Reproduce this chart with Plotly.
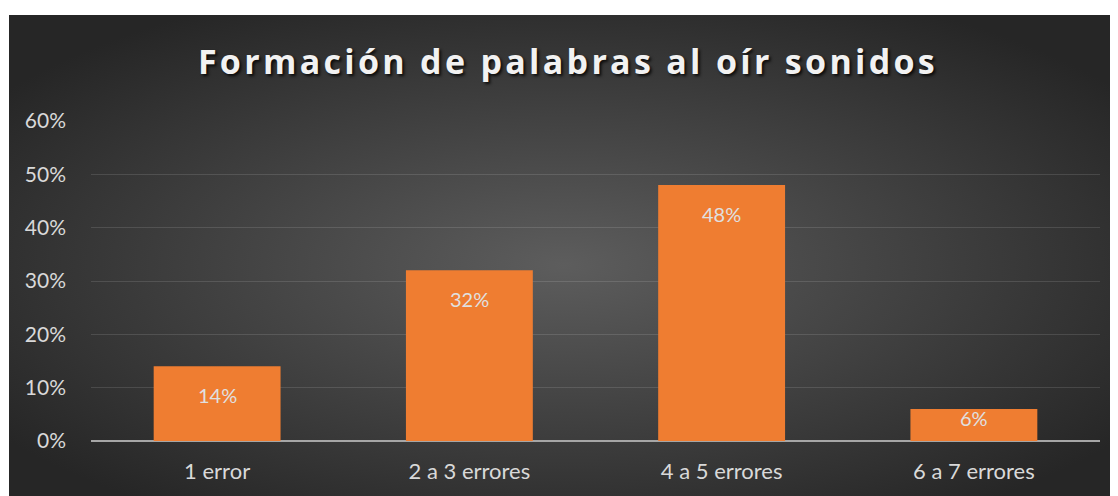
import plotly.graph_objects as go
import base64

categories = ["1 error", "2 a 3 errores", "4 a 5 errores", "6 a 7 errores"]
values = [0.14, 0.32, 0.48, 0.06]
tick_vals = [0, 0.1, 0.2, 0.3, 0.4, 0.5, 0.6]
tick_text = ["0%", "10%", "20%", "30%", "40%", "50%", "60%"]
title_text = "Formación de palabras al oír sonidos"

# figure is drawn inside the page with an 8px body margin
W, H = 1110, 488
L, R, T, B = 83, 18, 113, 55
plot_w = W - L - R
plot_h = H - T - B
ymax = 0.6

svg = (
    '<svg xmlns="http://www.w3.org/2000/svg" width="1109" height="481" preserveAspectRatio="none">'
    '<defs><radialGradient id="g" cx="0.5" cy="0.52" r="0.62">'
    '<stop offset="0" stop-color="#5d5d5d"/><stop offset="1" stop-color="#262626"/>'
    '</radialGradient></defs><rect width="1109" height="481" fill="url(#g)"/></svg>'
)
bg_src = "data:image/svg+xml;base64," + base64.b64encode(svg.encode()).decode()

fig = go.Figure()
fig.add_trace(go.Bar(
    x=categories, y=values,
    marker=dict(color="#EF7D31", line=dict(width=0)),
    hoverinfo="skip",
))

font_family = "Lato, 'Open Sans', sans-serif"

# data labels near the top inside each bar
for c, v in zip(categories, values):
    bar_px = v / ymax * plot_h
    shift = min(15, bar_px - 37)
    fig.add_annotation(
        x=c, y=v, xref="x", yref="y", text=f"{round(v*100)}%",
        showarrow=False, yanchor="top", yshift=-shift,
        font=dict(family=font_family, size=20, color="#e0e0e0"),
    )

fig.add_layout_image(
    source=bg_src, xref="paper", yref="paper",
    x=(1 - L) / plot_w, y=(H - B - 7) / plot_h,
    sizex=1109 / plot_w, sizey=481 / plot_h,
    xanchor="left", yanchor="top", sizing="stretch", layer="below",
)

fig.update_layout(
    width=W, height=H,
    margin=dict(l=L, r=R, t=T, b=B, pad=0),
    paper_bgcolor="white",
    plot_bgcolor="rgba(0,0,0,0)",
    showlegend=False,
    bargap=0.497,
    title=dict(
        text='<span style="letter-spacing:3.3px">' + title_text + '</span>',
        x=(568 - 8) / W, xanchor="center", xref="container",
        y=1 - 54 / H, yanchor="middle", yref="container",
        font=dict(family="'Open Sans', sans-serif", size=34, color="#f2f2f2",
                  weight="bold", shadow="2px 2px 3px rgba(0,0,0,0.8)"),
    ),
    xaxis=dict(
        showgrid=False, showline=False, zeroline=False, ticks="",
        tickfont=dict(family=font_family, size=22, color="#d9d9d9"),
        ticklabelstandoff=15,
    ),
    yaxis=dict(
        range=[0, ymax], tickvals=tick_vals, ticktext=tick_text,
        showgrid=True, gridcolor="rgba(255,255,255,0.12)", gridwidth=1,
        zeroline=True, zerolinecolor="#a6a6a6", zerolinewidth=2,
        showline=False, ticks="",
        tickfont=dict(family=font_family, size=21, color="#d9d9d9"),
        ticklabelstandoff=24,
    ),
)

fig.write_html("out.html")
